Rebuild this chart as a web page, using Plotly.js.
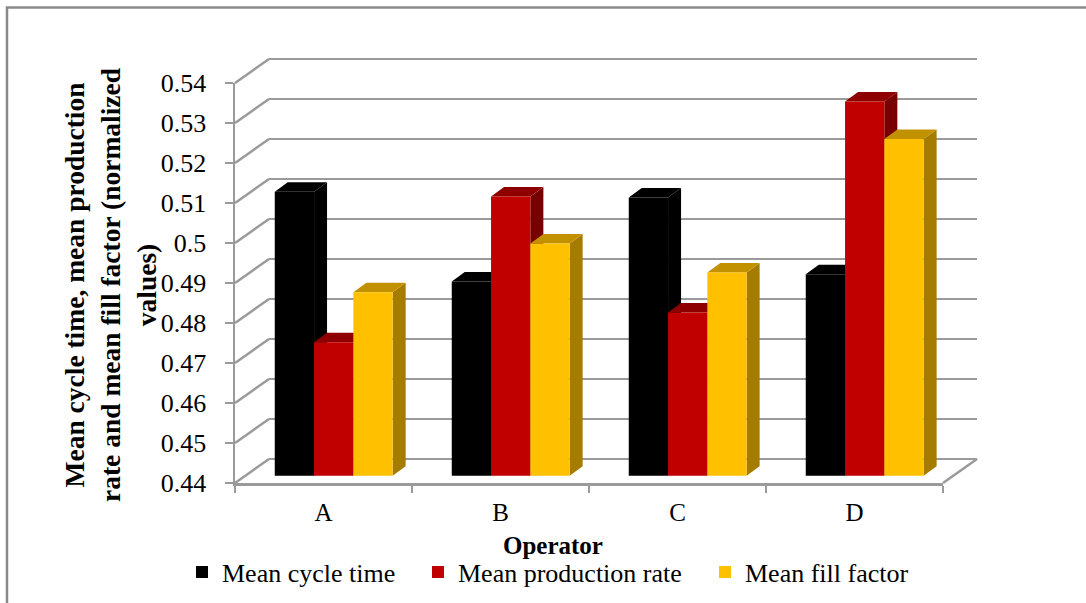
<!DOCTYPE html>
<html>
<head>
<meta charset="utf-8">
<script src="https://cdn.plot.ly/plotly-3.0.1.min.js"></script>
<style>html,body{margin:0;padding:0;background:#fff;}#chart{width:1086px;height:603px;}</style>
</head>
<body>
<div id="chart"></div>
<script>
// ---- data ----
const categories = ['A', 'B', 'C', 'D'];
const seriesNames = ['Mean cycle time', 'Mean production rate', 'Mean fill factor'];
const meanCycleTime = [0.5110, 0.4886, 0.5096, 0.4904];
const meanProductionRate = [0.4734, 0.5098, 0.4808, 0.5336];
const meanFillFactor = [0.4859, 0.4981, 0.4908, 0.5242];
const yTickVals = [0.44, 0.45, 0.46, 0.47, 0.48, 0.49, 0.50, 0.51, 0.52, 0.53, 0.54];
const yTickText = ['0.44', '0.45', '0.46', '0.47', '0.48', '0.49', '0.5', '0.51', '0.52', '0.53', '0.54'];
const xTitle = 'Operator';
const yTitle = 'Mean cycle time, mean production<br>rate and mean fill factor (normalized<br>values)';

// ---- styling / geometry ----
const W = 1086, H = 603;
const YMIN = yTickVals[0], YMAX = yTickVals[yTickVals.length - 1];
const FRONT = {l: 235, r: 943, b: 483, t: 83};          // front plane of the 3-D box (px)
const DX = 34, DY = 24;                                   // depth of the box (px)
const BAR_F = 0.3;                                        // bar front plane depth fraction
const BAR_DX = 13, BAR_DY = 9.5;                          // bar depth (px)
const PPV = (FRONT.b - FRONT.t) / (YMAX - YMIN);          // px per value unit
const PPC = (FRONT.r - FRONT.l) / categories.length;      // px per category
const colors = ['#000000', '#C00000', '#FFC000'];
const topColors = ['#000000', '#8E0000', '#C29100'];
const sideColors = ['#000000', '#780000', '#A57B00'];
const gridColor = '#9a9a9a';
const FONT = '"Liberation Serif", "Times New Roman", Times, serif';
const barWidth = 0.222;
const barOffsets = [-0.333, -0.111, 0.111];
const legendX = [182, 418, 705];
const legendIds = ['legend', 'legend2', 'legend3'];

function dom(l, r, b, t) { return {x: [l / W, r / W], y: [1 - b / H, 1 - t / H]}; }
const back = dom(FRONT.l + DX, FRONT.r + DX, FRONT.b - DY + 1.5, FRONT.t - DY - 1.5);
const front = dom(FRONT.l, FRONT.r, FRONT.b, FRONT.t);
const bar = dom(FRONT.l + BAR_F * DX, FRONT.r + BAR_F * DX, FRONT.b - BAR_F * DY, FRONT.t - BAR_F * DY);
const pad = 1.5 / PPV;

const allSeries = [meanCycleTime, meanProductionRate, meanFillFactor];

const traces = [
  {type: 'scatter', x: [], y: [], xaxis: 'x', yaxis: 'y', showlegend: false, hoverinfo: 'skip'},
  {type: 'scatter', x: [], y: [], xaxis: 'x2', yaxis: 'y2', showlegend: false, hoverinfo: 'skip'}
];
allSeries.forEach((vals, j) => {
  traces.push({
    type: 'bar', name: seriesNames[j], x: categories, y: vals, legend: legendIds[j],
    xaxis: 'x3', yaxis: 'y3', width: barWidth, offset: barOffsets[j],
    marker: {color: colors[j], line: {width: 0}}, hoverinfo: 'x+y+name'
  });
});

const shapes = [];
// outer border (left & top)
shapes.push({type: 'rect', xref: 'paper', yref: 'paper', x0: 7 / W, x1: 1.2, y0: -0.2, y1: 1 - 7.5 / H,
  line: {color: '#8a8a8a', width: 2.5}, fillcolor: 'rgba(0,0,0,0)', layer: 'below'});
// slanted side-wall lines from front axis ticks to back wall
yTickVals.forEach(v => {
  const yf = FRONT.b - (v - YMIN) * PPV;
  shapes.push({type: 'line', xref: 'paper', yref: 'paper',
    x0: FRONT.l / W, y0: 1 - yf / H, x1: (FRONT.l + DX) / W, y1: 1 - (yf - DY) / H,
    line: {color: gridColor, width: 2.5}, layer: 'below'});
});
// right floor edge
shapes.push({type: 'line', xref: 'paper', yref: 'paper',
  x0: FRONT.r / W, y0: 1 - FRONT.b / H, x1: (FRONT.r + DX) / W, y1: 1 - (FRONT.b - DY) / H,
  line: {color: gridColor, width: 2.5}, layer: 'below'});
// 3-D faces of bars (side + top), in bar coordinates
const ddx = BAR_DX / PPC, ddy = BAR_DY / PPV;
categories.forEach((c, i) => {
  allSeries.forEach((vals, j) => {
    const v = vals[i];
    const xl = i + barOffsets[j], xr = xl + barWidth;
    shapes.push({type: 'path', xref: 'x3', yref: 'y3', layer: 'below',
      path: `M${xr},${YMIN} L${xr},${v} L${xr + ddx},${v + ddy} L${xr + ddx},${YMIN + ddy} Z`,
      fillcolor: sideColors[j], line: {width: 0}});
    shapes.push({type: 'path', xref: 'x3', yref: 'y3', layer: 'below',
      path: `M${xl},${v} L${xr},${v} L${xr + ddx},${v + ddy} L${xl + ddx},${v + ddy} Z`,
      fillcolor: topColors[j], line: {width: 0}});
  });
});

const layout = {
  width: W, height: H, autosize: false,
  margin: {l: 0, r: 0, t: 0, b: 0, pad: 0},
  paper_bgcolor: '#ffffff', plot_bgcolor: 'rgba(0,0,0,0)',
  font: {family: FONT, color: '#000', size: 25},
  barmode: 'overlay',
  showlegend: true,
  xaxis: {domain: back.x, range: [0, 1], visible: false, fixedrange: true},
  yaxis: {domain: back.y, range: [YMIN - pad, YMAX + pad], tickmode: 'array', tickvals: yTickVals,
    showticklabels: false, ticks: '', showgrid: true, gridcolor: gridColor, gridwidth: 2.5,
    zeroline: false, showline: false, fixedrange: true, anchor: 'x'},
  xaxis2: {domain: front.x, range: [-0.5, categories.length - 0.5], anchor: 'y2',
    tickmode: 'array', tickvals: categories.map((c, i) => i), ticktext: categories,
    ticks: '', showgrid: false, zeroline: false, showline: true, linecolor: gridColor, linewidth: 2.5,
    minor: {tickmode: 'linear', tick0: -0.5, dtick: 1, ticks: 'outside', ticklen: 7, tickwidth: 2, tickcolor: gridColor, showgrid: false},
    tickfont: {family: FONT, size: 25, color: '#000'}, ticklabelstandoff: 5, fixedrange: true},
  yaxis2: {domain: front.y, range: [YMIN, YMAX], anchor: 'x2',
    tickmode: 'array', tickvals: yTickVals, ticktext: yTickText,
    ticks: 'outside', ticklen: 8, tickwidth: 2, tickcolor: gridColor,
    showgrid: false, zeroline: false, showline: true, linecolor: gridColor, linewidth: 2.5,
    tickfont: {family: FONT, size: 26, color: '#000'}, ticklabelstandoff: 13, fixedrange: true},
  xaxis3: {domain: bar.x, type: 'category', range: [-0.5, categories.length - 0.5], anchor: 'y3', visible: false, fixedrange: true},
  yaxis3: {domain: bar.y, range: [YMIN, YMAX], anchor: 'x3', visible: false, fixedrange: true},
  shapes: shapes,
  annotations: [
    {text: yTitle, xref: 'paper', yref: 'paper', x: 110 / W, y: 1 - 285 / H, xanchor: 'center', yanchor: 'middle',
      textangle: -90, showarrow: false, font: {family: FONT, size: 27.5, color: '#000', weight: 'bold'}},
    {text: xTitle, xref: 'paper', yref: 'paper', x: 553 / W, y: 1 - 545 / H, xanchor: 'center', yanchor: 'middle',
      showarrow: false, font: {family: FONT, size: 25, color: '#000', weight: 'bold'}}
  ]
};
legendIds.forEach((id, j) => {
  layout[id] = {orientation: 'h', x: legendX[j] / W, xanchor: 'left', y: 1 - 572 / H, yanchor: 'middle',
    font: {family: FONT, size: 26, color: '#000'}, bgcolor: 'rgba(0,0,0,0)'};
});

Plotly.newPlot('chart', traces, layout, {displayModeBar: false, staticPlot: true});
</script>
</body>
</html>
